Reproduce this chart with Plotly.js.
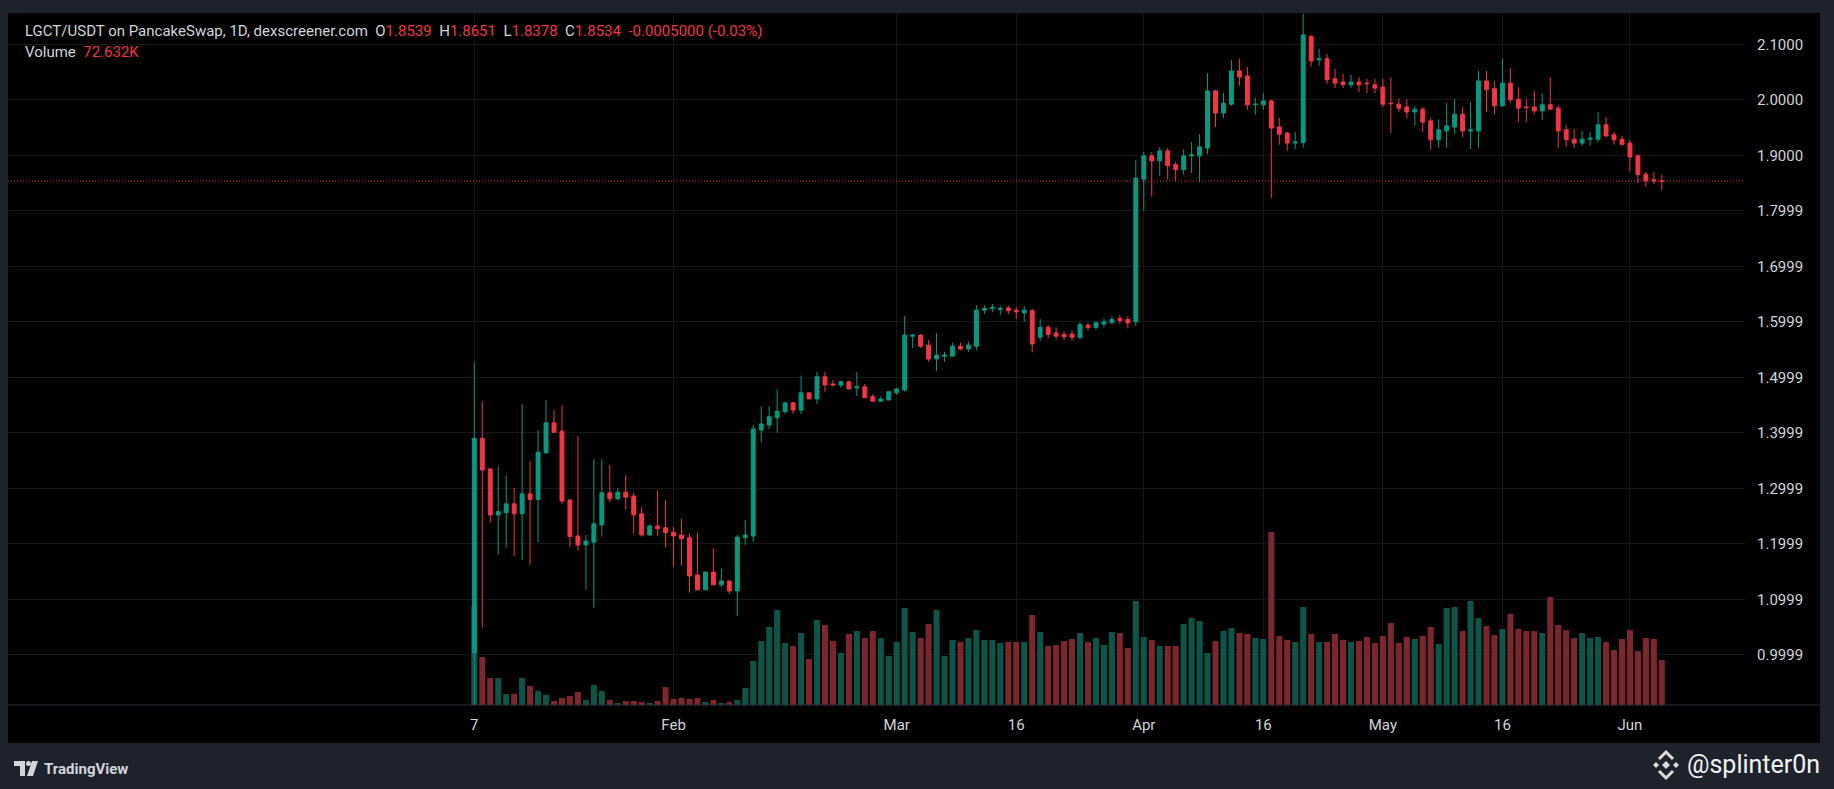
<!DOCTYPE html>
<html><head><meta charset="utf-8">
<script src="https://cdn.plot.ly/plotly-3.0.1.min.js"></script>
<style>html,body{margin:0;padding:0;background:#1e222d;overflow:hidden}#chart{width:1834px;height:789px}</style>
</head><body><div id="chart"></div>
<script>
// ---- data ----
const startDate = [2025, 0, 7];   // first daily candle: 7 Jan 2025
const openP = [1.004,1.390,1.335,1.252,1.256,1.272,1.254,1.290,1.280,1.364,1.418,1.403,1.279,1.214,1.198,1.203,1.234,1.292,1.281,1.293,
1.286,1.254,1.216,1.232,1.229,1.221,1.216,1.211,1.144,1.117,1.149,1.126,1.133,1.115,1.211,1.214,1.405,1.414,1.427,1.438,
1.454,1.441,1.472,1.461,1.501,1.488,1.486,1.492,1.481,1.483,1.465,1.457,1.459,1.472,1.477,1.574,1.576,1.558,1.533,1.538,
1.538,1.556,1.551,1.556,1.621,1.624,1.622,1.625,1.621,1.616,1.620,1.572,1.590,1.580,1.577,1.578,1.572,1.594,1.590,1.596,
1.599,1.606,1.604,1.600,1.857,1.899,1.890,1.908,1.883,1.874,1.899,1.899,1.913,2.016,1.976,1.992,2.052,2.043,1.991,1.991,
1.998,1.951,1.940,1.922,1.923,2.114,2.072,2.074,2.038,2.032,2.027,2.032,2.030,2.027,2.023,1.994,1.992,1.987,1.978,1.983,
1.962,1.928,1.944,1.951,1.974,1.944,1.944,2.034,2.020,1.989,2.030,2.001,1.987,1.987,1.980,1.991,1.985,1.946,1.929,1.922,
1.929,1.929,1.955,1.937,1.929,1.922,1.899,1.866,1.856,1.8539];
const highP = [1.528,1.457,1.336,1.340,1.324,1.301,1.452,1.349,1.405,1.459,1.441,1.450,1.279,1.394,1.216,1.353,1.353,1.342,1.301,1.324,
1.293,1.266,1.236,1.297,1.279,1.230,1.245,1.218,1.220,1.150,1.192,1.155,1.133,1.216,1.243,1.414,1.447,1.448,1.479,1.456,
1.456,1.503,1.472,1.510,1.510,1.495,1.493,1.493,1.510,1.488,1.470,1.466,1.475,1.481,1.611,1.578,1.578,1.567,1.580,1.546,
1.562,1.562,1.565,1.630,1.630,1.632,1.628,1.629,1.627,1.628,1.624,1.605,1.595,1.590,1.583,1.585,1.600,1.598,1.602,1.606,
1.610,1.612,1.610,1.892,1.906,1.906,1.915,1.913,1.888,1.911,1.924,1.938,2.048,2.018,2.012,2.072,2.074,2.059,2.003,2.012,
2.000,1.967,1.942,1.942,2.155,2.117,2.092,2.083,2.056,2.047,2.045,2.041,2.038,2.038,2.038,2.041,2.003,2.001,1.989,1.987,
1.967,1.965,1.994,2.001,1.987,1.996,2.052,2.052,2.034,2.074,2.057,2.023,2.001,2.016,2.012,2.041,1.990,1.955,1.947,1.944,
1.942,1.978,1.969,1.942,1.935,1.928,1.902,1.870,1.870,1.8651];
const lowP = [0.850,1.049,1.238,1.180,1.193,1.177,1.171,1.162,1.203,1.362,1.400,1.272,1.195,1.187,1.117,1.085,1.213,1.275,1.279,1.261,
1.218,1.213,1.214,1.214,1.193,1.159,1.161,1.112,1.117,1.117,1.126,1.122,1.110,1.070,1.198,1.203,1.383,1.407,1.400,1.434,
1.434,1.434,1.461,1.452,1.474,1.484,1.481,1.479,1.466,1.463,1.456,1.456,1.459,1.468,1.474,1.553,1.553,1.528,1.511,1.528,
1.538,1.549,1.546,1.549,1.614,1.617,1.612,1.613,1.605,1.600,1.545,1.565,1.570,1.568,1.567,1.566,1.568,1.584,1.586,1.590,
1.595,1.596,1.588,1.592,1.800,1.825,1.863,1.856,1.854,1.865,1.868,1.851,1.902,1.951,1.967,1.989,2.025,1.982,1.973,1.982,
1.823,1.919,1.908,1.911,1.914,2.060,2.061,2.029,2.021,2.021,2.021,2.014,2.012,2.012,1.987,1.940,1.978,1.967,1.953,1.942,
1.910,1.913,1.913,1.938,1.933,1.911,1.913,1.978,1.974,1.989,1.994,1.960,1.960,1.974,1.964,1.983,1.913,1.915,1.913,1.917,
1.917,1.924,1.933,1.919,1.917,1.872,1.850,1.843,1.848,1.8378];
const closeP = [1.390,1.333,1.252,1.258,1.272,1.254,1.290,1.280,1.365,1.418,1.401,1.277,1.213,1.198,1.205,1.236,1.292,1.281,1.293,1.284,
1.252,1.216,1.232,1.227,1.220,1.214,1.209,1.142,1.117,1.149,1.126,1.133,1.115,1.212,1.216,1.407,1.416,1.429,1.439,1.454,
1.441,1.472,1.461,1.501,1.486,1.486,1.492,1.479,1.483,1.463,1.457,1.461,1.474,1.479,1.576,1.576,1.556,1.533,1.540,1.540,
1.556,1.551,1.558,1.621,1.624,1.626,1.624,1.620,1.618,1.621,1.560,1.590,1.577,1.574,1.573,1.572,1.595,1.590,1.598,1.600,
1.604,1.602,1.598,1.859,1.899,1.890,1.908,1.881,1.874,1.899,1.901,1.915,2.016,1.976,1.994,2.052,2.041,1.991,1.992,1.998,
1.949,1.938,1.922,1.924,2.117,2.070,2.074,2.036,2.030,2.027,2.032,2.027,2.029,2.021,1.992,1.993,1.985,1.978,1.983,1.960,
1.928,1.946,1.953,1.974,1.944,1.946,2.034,2.018,1.989,2.030,2.000,1.985,1.986,1.980,1.991,1.983,1.944,1.928,1.922,1.929,
1.931,1.955,1.935,1.928,1.920,1.897,1.865,1.854,1.854,1.8534];
const volumeK = [160,77.5,43.6,43.6,17.8,17.8,43.6,30.7,22.6,16.1,6.5,11.3,14.5,21,8.1,32.3,22.6,8.1,3.2,6.5,
6.5,4.8,3.2,6.5,29,9.7,11.3,9.7,11.3,4.8,8.1,3.2,4.8,8.1,27.4,71,103.3,125.9,153.3,100,
95.2,116.2,74.2,137.2,129.1,103.3,83.9,114.6,119.4,108.1,119.4,108.1,79.1,101.7,156.6,117.8,108.1,130.7,153.3,79.1,
104.9,101.7,108.1,121,104.9,104.9,100,101.7,101.7,101.7,145.3,117.8,95.2,96.8,103.3,106.5,116.2,101.7,108.1,96.8,
117.8,116.2,92,167.9,109.8,104.9,95.2,95.2,95.2,130.7,140.4,135.6,83.9,103.3,119.4,124.3,116.2,114.6,108.1,106.5,
279.2,111.4,104.9,101.7,158.2,114.6,101.7,101.7,114.6,104.9,101.7,103.3,109.8,100,111.4,132.3,100,109.8,106.5,111.4,
125.9,98.5,156.6,158.2,119.4,167.9,140.4,127.5,113,122.7,146.9,122.7,119.4,119.4,116.2,174.3,129.1,121,108.1,116.2,
108.1,109.8,101.7,88.8,106.5,121,87.2,108.1,106.5,72.632];
const priceTickVals = [2.1,2.0,1.9,1.7999,1.6999,1.5999,1.4999,1.3999,1.2999,1.1999,1.0999,0.9999];
const priceTickText = ['2.1000','2.0000','1.9000','1.7999','1.6999','1.5999','1.4999','1.3999','1.2999','1.1999','1.0999','0.9999'];
const timeTickVals = ['2025-01-07','2025-02-01','2025-03-01','2025-03-16','2025-04-01','2025-04-16','2025-05-01','2025-05-16','2025-06-01'];
const timeTickText = ['7','Feb','Mar','16','Apr','16','May','16','Jun'];
const lastClose = 1.8534;
const headerName = 'LGCT/USDT on PancakeSwap, 1D, dexscreener.com';
const headerVals = {O:'1.8539', H:'1.8651', L:'1.8378', C:'1.8534', chg:'-0.0005000 (-0.03%)'};
const volumeLabel = '72.632K';

// ---- geometry ----
const W = 1834, H = 789;
const plotL = 8, plotR = 1745, plotT = 13, plotB = 705;
const pw = plotR - plotL, ph = plotB - plotT;
const PX = p => (p - plotL) / pw;
const PY = p => (plotB - p) / ph;
const DAY = 86400000;
const t0 = Date.UTC(startDate[0], startDate[1], startDate[2]);
const pxPerDay = 7.97, x0px = 474.3;
const dates = openP.map((_, i) => new Date(t0 + i * DAY).toISOString().slice(0, 10));
const xr = [new Date(t0 - (x0px - plotL) / pxPerDay * DAY).toISOString(),
            new Date(t0 + (plotR - x0px) / pxPerDay * DAY).toISOString()];
const pxPerPrice = 555;
const yTop = 2.1 + (44.3 - plotT) / pxPerPrice;
const yBot = 2.1 - (plotB - 44.3) / pxPerPrice;
const volMax = ph * 1.614;

const UP = '#089981', DN = '#f23645';
const volColors = openP.map((o, i) => closeP[i] >= o ? '#0e5549' : '#7c262e');
const FONT = 'Roboto, "Noto Sans", sans-serif';
const TXT = '#d1d4dc';

const traces = [
  {type:'bar', x:dates, y:volumeK, xaxis:'x', yaxis:'y', width:0.76*DAY,
   marker:{color:volColors, line:{width:0}}, hoverinfo:'skip'},
  {type:'candlestick', x:dates, open:openP, high:highP, low:lowP, close:closeP, xaxis:'x', yaxis:'y2',
   increasing:{line:{color:UP, width:1}, fillcolor:UP},
   decreasing:{line:{color:DN, width:1}, fillcolor:DN},
   whiskerwidth:0, hoverinfo:'skip'}
];

const red = s => '<span style="color:' + DN + '">' + s + '</span>';
const sp = '&nbsp;&nbsp;';
const headerText = headerName + sp + 'O' + red(headerVals.O) + sp + 'H' + red(headerVals.H) + sp +
  'L' + red(headerVals.L) + sp + 'C' + red(headerVals.C) + sp + red(headerVals.chg);

const shapes = [
  {type:'rect', xref:'paper', yref:'paper', x0:PX(8), x1:PX(1820), y0:PY(743), y1:PY(13),
   fillcolor:'#000000', line:{width:0}, layer:'below'},
  {type:'line', xref:'paper', yref:'y2', x0:0, x1:1, y0:lastClose, y1:lastClose,
   line:{color:DN, width:1, dash:'1px,2px'}},
  {type:'line', xref:'paper', yref:'paper', x0:PX(8), x1:PX(1820), y0:PY(705), y1:PY(705),
   line:{color:'#2e323c', width:1}},
  {type:'path', xref:'paper', yref:'paper', fillcolor:TXT, line:{width:0},
   path:'M'+PX(14)+','+PY(761)+' L'+PX(25)+','+PY(761)+' L'+PX(25)+','+PY(776)+' L'+PX(20)+','+PY(776)+
        ' L'+PX(20)+','+PY(766)+' L'+PX(14)+','+PY(766)+' Z'},
  {type:'circle', xref:'paper', yref:'paper', fillcolor:TXT, line:{width:0},
   x0:PX(26), x1:PX(31), y0:PY(766), y1:PY(761)},
  {type:'path', xref:'paper', yref:'paper', fillcolor:TXT, line:{width:0},
   path:'M'+PX(32)+','+PY(761)+' L'+PX(38)+','+PY(761)+' L'+PX(33)+','+PY(776)+' L'+PX(27)+','+PY(776)+' Z'}
];
const dia = (cx, cy, r) => ({type:'path', xref:'paper', yref:'paper', fillcolor:'#dcdcdc', line:{width:0},
  path:'M'+PX(cx)+','+PY(cy-r)+' L'+PX(cx+r)+','+PY(cy)+' L'+PX(cx)+','+PY(cy+r)+' L'+PX(cx-r)+','+PY(cy)+' Z'});
shapes.push(dia(1666,765,4), dia(1656,765,3), dia(1676,765,3));
shapes.push({type:'path', xref:'paper', yref:'paper', line:{color:'#dcdcdc', width:3},
  path:'M'+PX(1659)+','+PY(759)+' L'+PX(1666)+','+PY(752)+' L'+PX(1673)+','+PY(759)});
shapes.push({type:'path', xref:'paper', yref:'paper', line:{color:'#dcdcdc', width:3},
  path:'M'+PX(1659)+','+PY(771)+' L'+PX(1666)+','+PY(778)+' L'+PX(1673)+','+PY(771)});

const annotations = [
  {xref:'paper', yref:'paper', x:PX(23), y:PY(31.5), xanchor:'left', yanchor:'middle', showarrow:false,
   text:headerText, font:{family:FONT, size:15, color:TXT}},
  {xref:'paper', yref:'paper', x:PX(23), y:PY(52.5), xanchor:'left', yanchor:'middle', showarrow:false,
   text:'Volume' + sp + red(volumeLabel), font:{family:FONT, size:15, color:TXT}},
  {xref:'paper', yref:'paper', x:PX(42), y:PY(768.5), xanchor:'left', yanchor:'middle', showarrow:false,
   text:'<b>TradingView</b>', font:{family:FONT, size:15, color:TXT}},
  {xref:'paper', yref:'paper', x:PX(1685), y:PY(764), xanchor:'left', yanchor:'middle', showarrow:false,
   text:'@splinter0n', font:{family:FONT, size:25, color:'#f2f2f2'}}
];

const layout = {
  width:W, height:H,
  margin:{l:plotL, r:W-plotR, t:plotT, b:H-plotB, pad:0},
  paper_bgcolor:'#1e222d', plot_bgcolor:'#000000',
  showlegend:false, hovermode:false, dragmode:false,
  xaxis:{type:'date', range:xr, tickmode:'array', tickvals:timeTickVals, ticktext:timeTickText,
         showgrid:true, gridcolor:'#171717', gridwidth:1, zeroline:false, showline:false, ticks:'',
         ticklabelstandoff:9, tickfont:{family:FONT, size:15, color:TXT},
         rangeslider:{visible:false}, fixedrange:true},
  yaxis:{range:[0, volMax], visible:false, showgrid:false, zeroline:false, fixedrange:true},
  yaxis2:{overlaying:'y', side:'right', range:[yBot, yTop], tickmode:'array',
          tickvals:priceTickVals, ticktext:priceTickText, showgrid:true, gridcolor:'#171717', gridwidth:1,
          zeroline:false, showline:false, ticks:'', ticklabelstandoff:11,
          tickfont:{family:FONT, size:15, color:TXT}, fixedrange:true},
  shapes:shapes, annotations:annotations
};

Plotly.newPlot('chart', traces, layout, {displayModeBar:false, staticPlot:true});
</script>
</body></html>
